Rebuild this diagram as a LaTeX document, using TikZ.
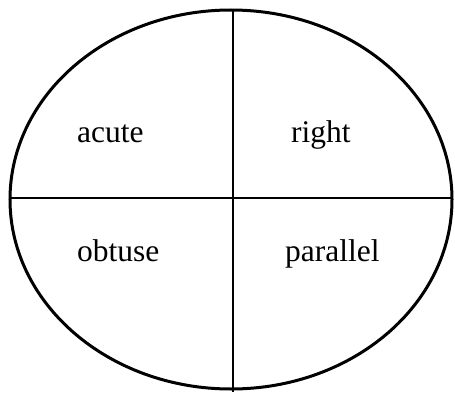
\documentclass[tikz,border=0pt]{standalone}
\usepackage{fontspec}
\setmainfont{Liberation Serif}
\begin{document}
\begin{tikzpicture}[x=1pt,y=1pt,
  lbl/.style={anchor=base west,inner sep=0pt,font=\fontsize{31.5}{36}\selectfont},
  divider/.style={line width=2pt,black}]
\useasboundingbox (0,0) rectangle (455,392);
\draw[line width=3pt] (231,192.5) ellipse [x radius=221, y radius=189.5];
\coordinate (top) at (233,382);
\coordinate (bot) at (233,0);
\coordinate (lft) at (10,194);
\coordinate (rgt) at (452,194);
\draw[divider] (top) -- (bot);
\draw[divider] (lft) -- (rgt);
\node[lbl] (acute) at (77,250) {acute};
\node[lbl] (right) at (291,250) {right};
\node[lbl] (obtuse) at (77,131) {obtuse};
\node[lbl] (parallel) at (285,131) {parallel};
\end{tikzpicture}
\end{document}
